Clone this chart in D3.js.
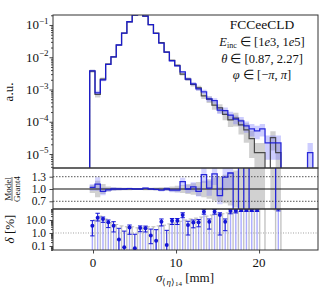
<!DOCTYPE html>
<meta charset="utf-8">
<html>
<head>
<script src="https://cdn.jsdelivr.net/npm/d3@7"></script>
<style>
  body { margin: 0; background: #fff; }
  text { font-family: "Liberation Serif", serif; fill: #111; }
</style>
</head>
<body>
<svg id="svg" width="324" height="292"></svg>
<script>
// binning of the histogram (mm)
const binStart = -0.4;
const binWidth = 0.64;
const nBins = 42;

// normalised counts
const modelVals = [3.8e-3, 7.9e-4, 2.0e-3, 6.0e-3, 1.02e-2, 2.4e-2, 5.6e-2, 0.126, 0.204, 0.229,
  0.19, 0.102, 0.055, 0.0275, 0.0145, 7.8e-3, 5.4e-3, 3.5e-3, 2.1e-3, 1.5e-3,
  1.05e-3, 8.5e-4, 5.1e-4, 4.5e-4, 2.3e-4, 2.2e-4, 1.6e-4, 1.2e-4, 1.07e-4, 7.4e-5,
  6.0e-5, 5.2e-5, 6.0e-5, 2.2e-5, 2.2e-5, 2.2e-5, 0, 0, 0, 0, 0, 1.1e-5];
const geantVals = [3.7e-3, 7.0e-4, 2.1e-3, 6.1e-3, 1.02e-2, 2.4e-2, 5.6e-2, 0.125, 0.204, 0.229,
  0.187, 0.102, 0.056, 0.0283, 0.0145, 8.0e-3, 5.6e-3, 3.0e-3, 2.1e-3, 1.43e-3,
  1.12e-3, 6.3e-4, 5.0e-4, 3.3e-4, 2.7e-4, 1.7e-4, 1.15e-4, 1.3e-4, 8.0e-5, 5.6e-5,
  3.0e-5, 1.1e-5, 1.1e-5, 0, 3.2e-5, 1.1e-5, 0, 0, 0, 0, 0, 0];
// relative statistical uncertainties
const modelErr = [0.08, 0.15, 0.1, 0.05, 0.04, 0.03, 0.025, 0.02, 0.02, 0.02,
  0.02, 0.025, 0.03, 0.035, 0.04, 0.05, 0.06, 0.08, 0.1, 0.11,
  0.13, 0.15, 0.18, 0.2, 0.25, 0.25, 0.28, 0.3, 0.32, 0.38,
  0.42, 0.45, 0.42, 0.7, 0.7, 0.7, 0, 0, 0, 0, 0, 1.0];
const geantErr = [0.10, 0.20, 0.12, 0.06, 0.045, 0.035, 0.03, 0.03, 0.025, 0.025,
  0.03, 0.03, 0.035, 0.04, 0.05, 0.06, 0.08, 0.10, 0.12, 0.14,
  0.17, 0.2, 0.24, 0.28, 0.3, 0.35, 0.4, 0.45, 0.5, 0.6,
  0.75, 1.0, 1.0, 0, 0.6, 1.0, 0, 0, 0, 0, 0, 0];
// Model / Geant4
const ratioVals = [1.04, 1.12, 0.94, 0.98, 1.0, 1.0, 1.0, 1.01, 1.0, 1.0,
  1.02, 1.0, 0.99, 0.97, 1.0, 0.97, 0.97, 1.18, 1.0, 1.05,
  0.94, 1.35, 1.02, 1.37, 0.84, 1.29, 1.39, 0.2, 2.0, 0.2,
  2.0, 2.0, 2.0, 2.0, 2.0, 0.2, null, null, null, null, null, null];
// delta [%] with error bar ends
const deltaVals = [3.6, 15, 12, 6.6, 3.6, 0.32, 0.08, 2.7, 0.066, 2.4,
  2.3, 0.63, 0.25, 7.4, 0.12, 8.9, 8.9, 24, 4.1, 6.3,
  6.6, 43, 7.4, 43, 24, 7.4, 49, 52, 58, 58,
  58, 58, null, null, null, 80, null, null, null, null, null, null];
const deltaHi = [8.9, 33, 17, 10, 7.4, 2.3, 1.4, 4.1, 0.8, 3.5,
  3.4, 2.0, 1.8, 12, 1.6, 13, 13, 36, 8, 10,
  11, 64, 12, 64, 36, 12, 66, 66, 70, 70,
  70, 70, null, null, null, 120, null, null, null, null, null, null];
const deltaLo = [0.6, 8.4, 6.6, 2.6, 1.2, 0.04, 0.04, 0.8, 0.04, 1.26,
  1.2, 0.15, 0.04, 3.5, 0.04, 4.5, 4.5, 15, 0.7, 2.5,
  3, 28, 2, 28, 0.7, 1.5, 30, 35, 45, 45,
  45, 45, null, null, null, 50, null, null, null, null, null, null];

const xTicks = [0, 10, 20];
const mainExps = [-5, -4, -3, -2, -1];
const ratioTicks = [0.7, 1.0, 1.3];
const ratioGuides = [0.7, 1.3];
const deltaTicks = [0.1, 1, 10];

const svg = d3.select("#svg");
const L = 53, R = 318;
const mainTop = 15, mainBot = 168, ratioBot = 209, deltaBot = 250;

const edges = d3.range(nBins + 1).map(i => binStart + i * binWidth);
const centers = edges.slice(0, -1).map(e => e + binWidth / 2);

const x = d3.scaleLinear().domain([-4.82, 27.1]).range([L, R]);
const yMain = d3.scaleLog().domain([Math.pow(10, -5.434), Math.pow(10, -0.69)]).range([mainBot, mainTop]);
const yRatio = d3.scaleLinear().domain([0.512, 1.512]).range([ratioBot, mainBot]);
const yDelta = d3.scaleLog().domain([Math.pow(10, -1.308), Math.pow(10, 1.846)]).range([deltaBot, ratioBot]);

const BLUE = "#1515d6";

// clip paths
const defs = svg.append("defs");
[["cMain", mainTop, mainBot], ["cRatio", mainBot, ratioBot], ["cDelta", ratioBot, deltaBot]].forEach(c => {
  defs.append("clipPath").attr("id", c[0]).append("rect")
    .attr("x", L).attr("y", c[1]).attr("width", R - L).attr("height", c[2] - c[1]);
});

function stepPoints(vals, yf, base) {
  let pts = [[x(edges[0]), base]];
  vals.forEach((v, i) => {
    let yy = (v != null && v > 0) ? yf(v) : base;
    pts.push([x(edges[i]), yy], [x(edges[i + 1]), yy]);
  });
  pts.push([x(edges[nBins]), base]);
  return pts;
}

function bandPoints(vals, errs, yf, base, ok) {
  let pts = [];
  vals.forEach((v, i) => {
    let good = ok(v, errs[i]);
    let lo = good ? (v * (1 - errs[i]) > 0 ? yf(v * (1 - errs[i])) : base) : base;
    let hi = good ? yf(v * (1 + errs[i])) : base;
    pts.push({x: x(edges[i]), lo: lo, hi: hi, ok: good});
    pts.push({x: x(edges[i + 1]), lo: lo, hi: hi, ok: good});
  });
  return pts;
}

const area = d3.area().defined(d => d.ok).x(d => d.x).y0(d => d.lo).y1(d => d.hi);
const line = d3.line();

// ---------------- main panel
const gMain = svg.append("g").attr("clip-path", "url(#cMain)");
gMain.append("path")
  .attr("d", area(bandPoints(geantVals, geantErr, yMain, mainBot + 5, (v, e) => v > 0 && e > 0)))
  .attr("fill", "#9a9a9a").attr("opacity", 0.45);
gMain.append("path")
  .attr("d", area(bandPoints(modelVals, modelErr, yMain, mainBot + 5, (v, e) => v > 0 && e > 0)))
  .attr("fill", "#6f6fff").attr("opacity", 0.35);
gMain.append("path")
  .attr("d", line(stepPoints(geantVals, yMain, mainBot + 3)))
  .attr("fill", "none").attr("stroke", "#333").attr("stroke-width", 1.2).attr("opacity", 0.85);
gMain.append("path")
  .attr("d", line(stepPoints(modelVals, yMain, mainBot + 3)))
  .attr("fill", "none").attr("stroke", BLUE).attr("stroke-width", 1.3).attr("opacity", 0.9);

// ---------------- ratio panel
const gRatio = svg.append("g").attr("clip-path", "url(#cRatio)");
const ones = geantErr.map(() => 1);
gRatio.append("path")
  .attr("d", area(bandPoints(ones, geantErr, yRatio, ratioBot + 5, (v, e) => e > 0)))
  .attr("fill", "#9a9a9a").attr("opacity", 0.45);
gRatio.append("path")
  .attr("d", area(bandPoints(ratioVals, modelErr, yRatio, ratioBot + 5, (v, e) => v != null && v > 0.5 && v < 1.5 && e > 0)))
  .attr("fill", "#6f6fff").attr("opacity", 0.3);
ratioGuides.forEach(t => {
  gRatio.append("line").attr("x1", L).attr("x2", R).attr("y1", yRatio(t)).attr("y2", yRatio(t))
    .attr("stroke", "#444").attr("stroke-width", 0.9).attr("stroke-dasharray", "1.5,1.5");
});
gRatio.append("line").attr("x1", L).attr("x2", R).attr("y1", yRatio(1)).attr("y2", yRatio(1))
  .attr("stroke", "#111").attr("stroke-width", 1.2);
let rPts = [];
ratioVals.forEach((v, i) => {
  rPts.push({x: x(edges[i]), v: v}, {x: x(edges[i + 1]), v: v});
});
gRatio.append("path")
  .attr("d", d3.line().defined(d => d.v != null).x(d => d.x).y(d => yRatio(d.v))(rPts))
  .attr("fill", "none").attr("stroke", BLUE).attr("stroke-width", 1.3).attr("opacity", 0.9);

// ---------------- delta panel
const gDelta = svg.append("g").attr("clip-path", "url(#cDelta)");
gDelta.append("line").attr("x1", L).attr("x2", R).attr("y1", yDelta(1)).attr("y2", yDelta(1))
  .attr("stroke", "#999").attr("stroke-width", 0.9).attr("stroke-dasharray", "1,1.5");
geantErr.forEach((e, i) => {
  if (!(e > 0)) return;
  let cx = x(centers[i]) + 2.6;
  gDelta.append("line").attr("x1", cx).attr("x2", cx).attr("y1", yDelta(e * 100)).attr("y2", deltaBot)
    .attr("stroke", "#c4c4c4").attr("stroke-width", 1.4);
  gDelta.append("line").attr("x1", cx - 2).attr("x2", cx + 2).attr("y1", yDelta(e * 100)).attr("y2", yDelta(e * 100))
    .attr("stroke", "#b8b8b8").attr("stroke-width", 1);
});
deltaVals.forEach((v, i) => {
  if (v == null) return;
  let cx = x(centers[i]);
  gDelta.append("line").attr("x1", cx).attr("x2", cx).attr("y1", yDelta(v)).attr("y2", deltaBot)
    .attr("stroke", "#6a6aff").attr("stroke-width", 1.4).attr("opacity", 0.55);
  gDelta.append("line").attr("x1", cx).attr("x2", cx).attr("y1", yDelta(deltaHi[i])).attr("y2", yDelta(deltaLo[i]))
    .attr("stroke", BLUE).attr("stroke-width", 1);
  [deltaHi[i], deltaLo[i]].forEach(c => {
    gDelta.append("line").attr("x1", cx - 2.2).attr("x2", cx + 2.2).attr("y1", yDelta(c)).attr("y2", yDelta(c))
      .attr("stroke", BLUE).attr("stroke-width", 1);
  });
  gDelta.append("circle").attr("cx", cx).attr("cy", yDelta(v)).attr("r", 2).attr("fill", BLUE);
});

// ---------------- axes
function styleAxis(g) {
  g.select(".domain").remove();
  g.selectAll(".tick line").attr("stroke", "#333").attr("stroke-width", 0.9);
  g.selectAll(".tick text").remove();
}
function minorLog(scale) {
  let d = scale.domain(), out = [];
  for (let p = Math.floor(Math.log10(d[0])); p <= Math.ceil(Math.log10(d[1])); p++) {
    for (let m = 2; m <= 9; m++) {
      let v = m * Math.pow(10, p);
      if (v >= d[0] && v <= d[1]) out.push(v);
    }
  }
  return out;
}

svg.append("g").attr("transform", `translate(${L},0)`)
  .call(d3.axisLeft(yMain).tickValues(mainExps.map(p => Math.pow(10, p))).tickSize(3.5)).call(styleAxis);
svg.append("g").attr("transform", `translate(${L},0)`)
  .call(d3.axisLeft(yMain).tickValues(minorLog(yMain)).tickSize(2)).call(styleAxis);
svg.append("g").attr("transform", `translate(${L},0)`)
  .call(d3.axisLeft(yRatio).tickValues(ratioTicks).tickSize(3.5)).call(styleAxis);
svg.append("g").attr("transform", `translate(${L},0)`)
  .call(d3.axisLeft(yDelta).tickValues(deltaTicks).tickSize(3.5)).call(styleAxis);
svg.append("g").attr("transform", `translate(${L},0)`)
  .call(d3.axisLeft(yDelta).tickValues(minorLog(yDelta)).tickSize(2)).call(styleAxis);
svg.append("g").attr("transform", `translate(0,${deltaBot})`)
  .call(d3.axisBottom(x).tickValues(xTicks).tickSize(3.5)).call(styleAxis);

// tick labels
mainExps.forEach(p => {
  let t = svg.append("text").attr("x", 48.5).attr("y", yMain(Math.pow(10, p)) + 4.5)
    .attr("text-anchor", "end").attr("font-size", 13);
  t.append("tspan").text("10");
  t.append("tspan").attr("dy", -5.5).attr("font-size", 9).text("\u2212" + Math.abs(p));
});
ratioTicks.forEach(v => {
  svg.append("text").attr("x", 46).attr("y", yRatio(v) + 4).attr("text-anchor", "end")
    .attr("font-size", 11.5).text(v.toFixed(1));
});
deltaTicks.forEach(v => {
  svg.append("text").attr("x", 46).attr("y", yDelta(v) + 4).attr("text-anchor", "end")
    .attr("font-size", 11.5).text(v.toFixed(1));
});
xTicks.forEach(v => {
  svg.append("text").attr("x", x(v)).attr("y", 267).attr("text-anchor", "middle")
    .attr("font-size", 13).text(v);
});

// axis titles
svg.append("text").attr("transform", `translate(13,92) rotate(-90)`)
  .attr("text-anchor", "middle").attr("font-size", 13).text("a.u.");
const gFrac = svg.append("g").attr("transform", `translate(12,${yRatio(1)}) rotate(-90)`);
gFrac.append("text").attr("x", 0).attr("y", -1.5).attr("text-anchor", "middle").attr("font-size", 9).text("Model");
gFrac.append("line").attr("x1", -12).attr("x2", 12).attr("y1", 0).attr("y2", 0).attr("stroke", "#111").attr("stroke-width", 0.6);
gFrac.append("text").attr("x", 0).attr("y", 7.5).attr("text-anchor", "middle").attr("font-size", 9).text("Geant4");
const dl = svg.append("text").attr("transform", `translate(14,229) rotate(-90)`)
  .attr("text-anchor", "middle").attr("font-size", 13);
dl.append("tspan").attr("font-style", "italic").text("\u03b4");
dl.append("tspan").text(" [%]");

const xl = svg.append("text").attr("x", 185).attr("y", 282).attr("text-anchor", "middle").attr("font-size", 13);
xl.append("tspan").attr("font-style", "italic").text("\u03c3");
xl.append("tspan").attr("font-size", 9).attr("dy", 3).text("\u27e8");
xl.append("tspan").attr("font-size", 9).attr("font-style", "italic").text("\u03b7");
xl.append("tspan").attr("font-size", 9).text("\u27e9");
xl.append("tspan").attr("font-size", 7).attr("dy", 1).text("14");
xl.append("tspan").attr("dy", -4).text(" [mm]");

// info box
const cxInfo = 262;
const boxFont = "DejaVu Serif";
svg.append("text").attr("x", cxInfo).attr("y", 29).attr("text-anchor", "middle")
  .attr("font-family", boxFont).attr("font-size", 13.5).text("FCCeeCLD");
const e1 = svg.append("text").attr("x", cxInfo).attr("y", 45.5).attr("text-anchor", "middle")
  .attr("font-family", boxFont).attr("font-size", 12.5);
e1.append("tspan").attr("font-style", "italic").text("E");
e1.append("tspan").attr("font-size", 8).attr("dy", 2.5).text("inc");
e1.append("tspan").attr("dy", -2.5).text(" \u2208 [1");
e1.append("tspan").attr("font-style", "italic").text("e");
e1.append("tspan").text("3, 1");
e1.append("tspan").attr("font-style", "italic").text("e");
e1.append("tspan").text("5]");
const e2 = svg.append("text").attr("x", cxInfo).attr("y", 62.5).attr("text-anchor", "middle")
  .attr("font-family", boxFont).attr("font-size", 12.5);
e2.append("tspan").attr("font-style", "italic").text("\u03b8");
e2.append("tspan").text(" \u2208 [0.87, 2.27]");
const e3 = svg.append("text").attr("x", cxInfo).attr("y", 78.5).attr("text-anchor", "middle")
  .attr("font-family", boxFont).attr("font-size", 12.5);
e3.append("tspan").attr("font-style", "italic").text("\u03c6");
e3.append("tspan").text(" \u2208 [\u2212");
e3.append("tspan").attr("font-style", "italic").text("\u03c0");
e3.append("tspan").text(", ");
e3.append("tspan").attr("font-style", "italic").text("\u03c0");
e3.append("tspan").text("]");

// frames
[[mainTop, mainBot], [mainBot, ratioBot], [ratioBot, deltaBot]].forEach(p => {
  svg.append("rect").attr("x", L).attr("y", p[0]).attr("width", R - L).attr("height", p[1] - p[0])
    .attr("fill", "none").attr("stroke", "#333").attr("stroke-width", 1);
});
</script>
</body>
</html>
